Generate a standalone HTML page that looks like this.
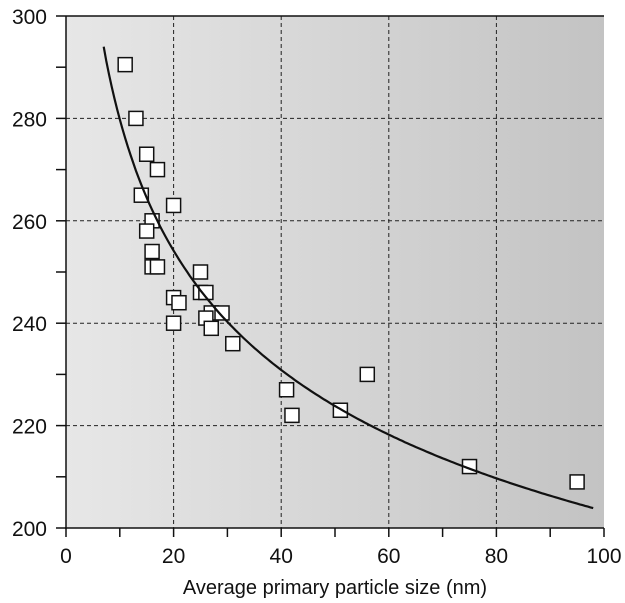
<!DOCTYPE html>
<html><head><meta charset="utf-8"><style>
html,body{margin:0;padding:0;background:#fff;}
svg{display:block;font-family:"Liberation Sans",sans-serif;}
</style></head><body>
<svg id="s" width="625" height="603" viewBox="0 0 625 603">
<defs><linearGradient id="g" x1="0" x2="1" y1="0" y2="0">
<stop offset="0" stop-color="#e7e7e7"/><stop offset="1" stop-color="#c3c3c3"/></linearGradient></defs>
<rect x="66" y="16" width="538" height="512" fill="url(#g)"/>
<g id="grid" stroke="#222" stroke-width="1" stroke-dasharray="4,3"></g>
<g id="pts"></g>
<path id="curve" fill="none" stroke="#111" stroke-width="2.2"/>
<g id="axes" stroke="#111" stroke-width="1.5"></g>
<g id="lab" font-size="21" fill="#111"></g>
<text x="335" y="594" font-size="20" text-anchor="middle" fill="#111">Average primary particle size (nm)</text>
</svg>
<script>
const X=v=>66+5.38*v, Y=v=>528-5.12*(v-200), NS="http://www.w3.org/2000/svg";
function el(p,t,a,txt){const e=document.createElementNS(NS,t);for(const k in a)e.setAttribute(k,a[k]);if(txt!==undefined)e.textContent=txt;document.getElementById(p).appendChild(e);}
for(const v of [20,40,60,80]) el("grid","line",{x1:X(v),x2:X(v),y1:16,y2:528});
for(const v of [220,240,260,280]) el("grid","line",{x1:66,x2:604,y1:Y(v),y2:Y(v)});
el("axes","line",{x1:66,x2:66,y1:16,y2:529});
el("axes","line",{x1:65,x2:604,y1:528,y2:528});
el("axes","line",{x1:66,x2:604,y1:16,y2:16});
for(let v=0;v<=100;v+=10) el("axes","line",{x1:X(v),x2:X(v),y1:528,y2:537});
for(let v=200;v<=300;v+=10) el("axes","line",{x1:56,x2:66,y1:Y(v),y2:Y(v)});
for(let v=0;v<=100;v+=20) el("lab","text",{x:X(v),y:563,"text-anchor":"middle"},v);
for(let v=200;v<=300;v+=20) el("lab","text",{x:47,y:Y(v)+8,"text-anchor":"end"},v);
const d=[[11,290.5],[13,280],[15,273],[17,270],[14,265],[20,263],[16,260],[15,258],[16,254],[16,251],[17,251],[25,250],[25,246],[26,246],[20,245],[21,244],[27,242],[29,242],[26,241],[20,240],[27,239],[31,236],[56,230],[41,227],[42,222],[51,223],[75,212],[95,209]];
for(const [a,b] of d) el("pts","rect",{x:X(a)-7,y:Y(b)-7,width:14,height:14,fill:"#fff",stroke:"#111","stroke-width":1.5});
let p="";for(let x=7;x<=98;x+=0.5){const y=294*Math.pow(x/7,-0.1387);p+=(p?"L":"M")+X(x).toFixed(1)+","+Y(y).toFixed(1);}
document.getElementById("curve").setAttribute("d",p);
</script>
</body></html>
